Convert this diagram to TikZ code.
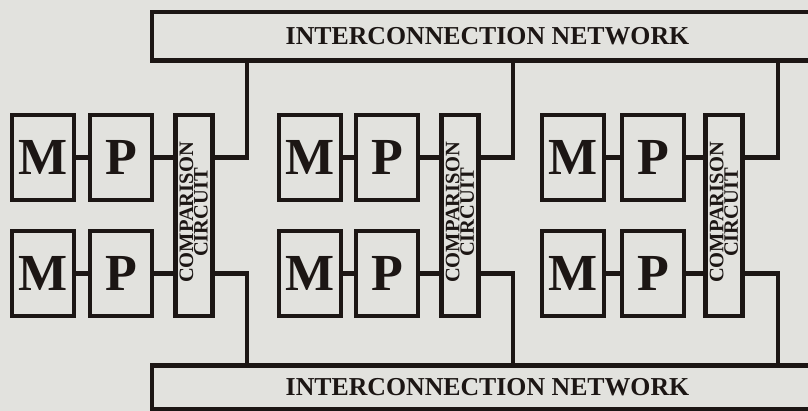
\documentclass[tikz,border=0pt]{standalone}
\usepackage{fontspec}
\setmainfont{Liberation Serif}
\definecolor{paper}{RGB}{226,226,222}
\definecolor{ink}{RGB}{28,22,20}
\begin{document}
\begin{tikzpicture}[x=1pt,y=-1pt,
  box/.style={draw=ink, line width=4.5pt, inner sep=0pt, outer sep=0pt, text=ink},
  unitbox/.style={box, minimum width=62pt, minimum height=85pt,
    font=\bfseries\fontsize{52}{52}\selectfont},
  cmpbox/.style={box, minimum width=37pt, minimum height=201pt},
  cmptext/.style={rotate=90, align=center, text=ink, inner sep=0pt,
    font=\bfseries\fontsize{20.5}{14.5}\selectfont},
  netbox/.style={box, minimum width=671pt,
    font=\bfseries\fontsize{25.8}{25.8}\selectfont},
  wire/.style={draw=ink, line width=4.5pt, line join=miter}]
\useasboundingbox (0,0) rectangle (808,411);
\fill[paper] (0,0) rectangle (808,411);

% the two interconnection networks
\node[netbox, minimum height=48.5pt] (top) at (487.5,36.25) {INTERCONNECTION NETWORK};
\node[netbox, minimum height=44pt] (bot) at (487.5,387.5) {INTERCONNECTION NETWORK};

% three pairs of memory/processor units, each with a comparison circuit
\foreach \i/\mx/\px/\cx/\lx in {1/43/121/193.75/247, 2/310/387/460/513, 3/573/653/724/778} {
  \node[unitbox] (Ma\i) at (\mx,157.5) {M};
  \node[unitbox] (Pa\i) at (\px,157.5) {P};
  \node[unitbox] (Mb\i) at (\mx,273.5) {M};
  \node[unitbox] (Pb\i) at (\px,273.5) {P};
  \node[cmpbox] (C\i) at (\cx,215.5) {};
  \node[cmptext] (Ct\i) at ([yshift=3pt]C\i.center) {COMPARISON\\CIRCUIT};
  \coordinate (L\i) at (\lx,0);
  \draw[wire] (Ma\i.east) -- (Pa\i.west);
  \draw[wire] (Mb\i.east) -- (Pb\i.west);
  \draw[wire] (Pa\i.east) -- (Pa\i.east -| C\i.west);
  \draw[wire] (Pb\i.east) -- (Pb\i.east -| C\i.west);
  \draw[wire] (C\i.east |- Pa\i.east) -| (L\i |- top.south);
  \draw[wire] (C\i.east |- Pb\i.east) -| (L\i |- bot.north);
}
\end{tikzpicture}
\end{document}
